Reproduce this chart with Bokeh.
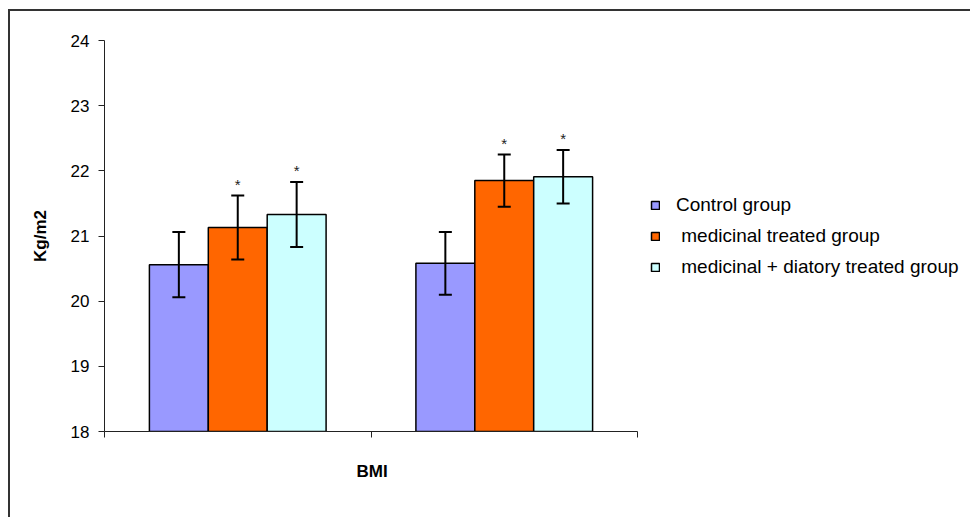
import numpy as np
from bokeh.plotting import figure
from bokeh.models import (ColumnDataSource, Whisker, TeeHead, Legend, LegendItem,
                          FixedTicker, Range1d, Title)
from bokeh.transform import dodge
from bokeh.core.properties import value
from bokeh.embed import file_html
from bokeh.resources import INLINE

# ---- data ----
categories = ["", ""]
x_title = "BMI"
y_title = "Kg/m2"
series_names = ["Control group", " medicinal treated group", " medicinal + diatory treated group"]
control = [20.56, 20.58]
medicinal = [21.13, 21.85]
combined = [21.33, 21.91]
control_err = [0.50, 0.48]
medicinal_err = [0.49, 0.40]
combined_err = [0.50, 0.41]
significant = [[False, False], [True, True], [True, True]]
colors = ["#9999FF", "#FF6600", "#CCFFFF"]
y_ticks = [18, 19, 20, 21, 22, 23, 24]

FONT = "Liberation Sans"

# canvas starts at (10, 11) of the window because of the outer border.
# The frame extends to the right edge so the legend (drawn inside the frame) is visible;
# the x axis is bounded to the two categories.
X_END = 868 / 266.5
p = figure(width=962, height=508, output_backend="svg", toolbar_location=None,
           x_range=Range1d(0, X_END), y_range=Range1d(18, 24),
           min_border_left=94, min_border_right=0, min_border_top=29,
           min_border_bottom=88)
p.styles = {"margin-left": "8px", "margin-top": "9px",
            "border-left": "2px solid #333333", "border-top": "2px solid #333333"}
p.outline_line_color = None
p.xgrid.visible = False
p.ygrid.visible = False
p.background_fill_color = "white"
p.border_fill_color = "white"

xs = np.arange(len(categories)) + 0.5
offsets = [-0.221, 0.0, 0.221]
width = 0.221
vals = [control, medicinal, combined]
errs = [control_err, medicinal_err, combined_err]

items = []
for i, (v, e, c, name, sig) in enumerate(zip(vals, errs, colors, series_names, significant)):
    v = np.array(v); e = np.array(e)
    src = ColumnDataSource(dict(x=xs, top=v, lower=v - e, upper=v + e,
                                star=["*" if s else "" for s in sig]))
    r = p.vbar(x=dodge("x", offsets[i], range=p.x_range), top="top", bottom=18,
               width=width, source=src, fill_color=c, line_color="black", line_width=1.5)
    items.append(LegendItem(label=name, renderers=[r]))
    w = Whisker(base=dodge("x", offsets[i], range=p.x_range), lower="lower", upper="upper",
                source=src, line_color="black", line_width=2, level="overlay",
                upper_head=TeeHead(size=13, line_color="black", line_width=2),
                lower_head=TeeHead(size=13, line_color="black", line_width=2))
    p.add_layout(w)
    p.text(x=dodge("x", offsets[i], range=p.x_range), y="upper", text="star", source=src,
           text_align="center", text_baseline="bottom", y_offset=-3,
           text_font=value(FONT), text_font_size="15px", text_color="#222222")

# axes
p.yaxis.ticker = FixedTicker(ticks=y_ticks)
p.yaxis.major_label_text_font = FONT
p.yaxis.major_label_text_font_size = "17px"
p.yaxis.major_label_text_color = "black"
p.yaxis.major_tick_in = 0
p.yaxis.major_tick_out = 6
p.yaxis.minor_tick_line_color = None
p.yaxis.major_label_standoff = 9
p.yaxis.axis_line_color = "#222222"
p.yaxis.major_tick_line_color = "#222222"
p.yaxis.axis_label = y_title
p.yaxis.axis_label_text_font = FONT
p.yaxis.axis_label_text_font_style = "bold"
p.yaxis.axis_label_text_font_size = "17px"
p.yaxis.axis_label_text_color = "black"
p.yaxis.axis_label_standoff = 18

p.xaxis.ticker = FixedTicker(ticks=[0, 1, 2])
p.xaxis.bounds = (0, 2)
p.xaxis.major_label_overrides = {0: "", 1: "", 2: ""}
p.xaxis.major_label_standoff = 21
p.xaxis.major_tick_in = 0
p.xaxis.major_tick_out = 6
p.xaxis.minor_tick_line_color = None
p.xaxis.axis_line_color = "#222222"
p.xaxis.major_tick_line_color = "#222222"

# x axis title, centred under the two categories (not under the whole frame)
p.add_layout(Title(text=x_title, align="left", offset=252, standoff=45,
                   text_font=FONT, text_font_style="bold", text_font_size="17px",
                   text_color="black"), "below")

legend = Legend(items=items, location=(546, 153), orientation="vertical",
                glyph_width=10, glyph_height=10, label_standoff=16, spacing=9,
                label_height=20, padding=0, margin=0, border_line_color=None,
                background_fill_alpha=0,
                label_text_font=FONT, label_text_font_size="19px", label_text_color="black")
p.add_layout(legend)

open("out.html", "w").write(file_html(p, INLINE))
